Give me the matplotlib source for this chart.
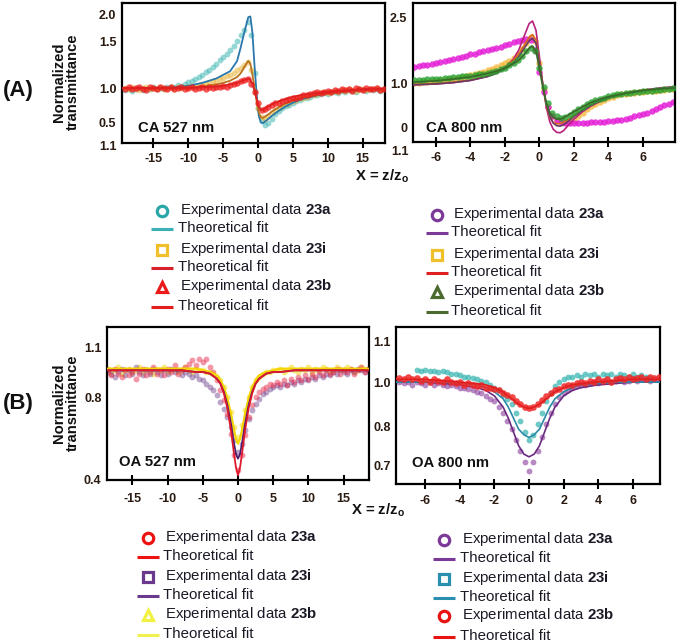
import numpy as np
import matplotlib
matplotlib.use('Agg')
import matplotlib.pyplot as plt

plt.rcParams['font.family'] = ['Liberation Sans', 'DejaVu Sans']
plt.rcParams['mathtext.fontset'] = 'custom'
plt.rcParams['mathtext.rm'] = 'Liberation Sans'
plt.rcParams['mathtext.bf'] = 'Liberation Sans:bold'
plt.rcParams['mathtext.it'] = 'Liberation Sans:italic'

# ---------------- CA 527 nm ----------------
x_ca527 = np.arange(-19, 18.01, 0.5)
ca527_23a = [0.97, 0.99, 0.96, 0.98, 1.00, 0.97, 0.99, 0.98, 1.01, 0.98, 1.00, 0.99, 1.02, 1.01,
             1.02, 1.04, 1.03, 1.06, 1.08, 1.10, 1.12, 1.15, 1.18, 1.22, 1.25, 1.29, 1.33, 1.38,
             1.42, 1.47, 1.52, 1.58, 1.65, 1.72, 1.80, 1.90, 1.72,
             1.20, 0.72, 0.55, 0.50, 0.52, 0.58, 0.64, 0.69,
             0.72, 0.75, 0.77, 0.80, 0.82, 0.84, 0.86, 0.87, 0.88, 0.90, 0.91, 0.92,
             0.93, 0.92, 0.94, 0.95, 0.93, 0.96, 0.95, 0.97, 0.96, 0.95, 0.98, 0.97, 0.96, 0.98, 0.97, 0.99, 0.96, 0.98]
ca527_23i = [1.00, 0.98, 1.01, 0.99, 0.97, 1.00, 1.02, 0.98, 1.00, 0.99, 1.01, 0.98, 1.00, 1.02,
             0.99, 1.01, 1.00, 1.02, 1.01, 1.03, 1.02, 1.04, 1.05, 1.06, 1.07, 1.09, 1.10, 1.12,
             1.14, 1.16, 1.18, 1.21, 1.24, 1.28, 1.32, 1.36, 1.25,
             0.95, 0.72, 0.60, 0.58, 0.62, 0.66, 0.70, 0.73,
             0.76, 0.78, 0.80, 0.82, 0.84, 0.86, 0.87, 0.88, 0.90, 0.91, 0.92, 0.93,
             0.94, 0.93, 0.95, 0.96, 0.95, 0.97, 0.96, 0.98, 0.97, 0.96, 0.99, 0.98, 0.97, 0.99, 0.98, 1.00, 0.97, 0.99]
ca527_23b = [0.99, 1.01, 0.98, 1.00, 1.02, 0.99, 0.97, 1.01, 1.00, 0.98, 1.02, 1.00, 0.99, 1.01, 0.98, 1.00, 1.02, 0.99, 1.00,
             1.01, 0.98, 1.00, 1.02, 0.99, 1.01, 1.00, 1.02, 1.01,
             1.03, 1.02, 1.04, 1.06, 1.07, 1.09, 1.11, 1.12,
             1.06, 0.95, 0.80, 0.70, 0.71, 0.74, 0.77,
             0.79, 0.80, 0.82, 0.83, 0.85, 0.86, 0.87, 0.88, 0.90, 0.91, 0.92, 0.93,
             0.94, 0.93, 0.95, 0.96, 0.94, 0.97, 0.96, 0.98, 0.97, 0.99, 0.96, 1.00, 0.98, 0.97, 1.00, 0.99, 0.98, 1.00, 0.97, 0.99]
xfit_ca527 = [-19.5, -15, -12, -10, -8, -6, -5, -4, -3, -2.5, -2, -1.7, -1.4, -1.1, -0.8, -0.5,
              -0.2, 0.1, 0.4, 0.7, 1.0, 1.5, 2, 3, 4, 5, 6, 8, 10, 13, 16, 18.2]
fit_ca527_23a = [1.0, 1.0, 1.01, 1.03, 1.07, 1.13, 1.18, 1.23, 1.37, 1.55, 1.75, 1.86, 1.97, 1.98, 1.75, 1.3,
                 0.92, 0.62, 0.53, 0.52, 0.54, 0.58, 0.62, 0.69, 0.75, 0.80, 0.84, 0.89, 0.93, 0.96, 0.98, 0.99]
fit_ca527_23i = [1.0, 1.0, 1.0, 1.01, 1.02, 1.05, 1.07, 1.10, 1.15, 1.20, 1.28, 1.33, 1.37, 1.33, 1.18, 1.0,
                 0.82, 0.67, 0.60, 0.59, 0.61, 0.64, 0.68, 0.74, 0.79, 0.83, 0.86, 0.90, 0.93, 0.96, 0.98, 0.99]
fit_ca527_23b = [1.0, 1.0, 1.0, 1.0, 1.01, 1.02, 1.03, 1.05, 1.07, 1.09, 1.11, 1.12, 1.13, 1.11, 1.05, 0.96,
                 0.85, 0.75, 0.70, 0.70, 0.72, 0.75, 0.78, 0.82, 0.85, 0.88, 0.90, 0.93, 0.95, 0.97, 0.99, 0.99]

# ---------------- CA 800 nm ----------------
x_ca800 = np.arange(-7.25, 7.76, 0.25)
ca800_23a = [1.37, 1.39, 1.40, 1.42, 1.44, 1.46, 1.48, 1.50, 1.52, 1.55, 1.57, 1.60, 1.62, 1.65, 1.67,
             1.70, 1.72, 1.75, 1.77, 1.80, 1.83, 1.86, 1.89, 1.93, 1.96, 1.98, 2.00, 1.98, 1.75, 1.25,
             0.80, 0.45, 0.25, 0.15, 0.12, 0.10, 0.10, 0.09, 0.09, 0.10, 0.10, 0.11, 0.11, 0.12, 0.12,
             0.13, 0.14, 0.15, 0.17, 0.19, 0.21, 0.24, 0.27, 0.30, 0.33, 0.37, 0.41, 0.45, 0.49, 0.53, 0.56]
ca800_23i = [1.00, 1.01, 1.02, 1.03, 1.04, 1.05, 1.06, 1.07, 1.09, 1.10, 1.12, 1.14, 1.16, 1.18, 1.20,
             1.23, 1.26, 1.29, 1.32, 1.36, 1.40, 1.45, 1.51, 1.58, 1.66, 1.78, 1.92, 2.05, 1.95, 1.45,
             0.85, 0.45, 0.25, 0.16, 0.13, 0.12, 0.13, 0.17, 0.24, 0.32, 0.40, 0.47, 0.53, 0.58, 0.62,
             0.66, 0.69, 0.72, 0.74, 0.76, 0.77, 0.78, 0.79, 0.80, 0.81, 0.82, 0.83, 0.84, 0.85, 0.86, 0.87]
ca800_23b = [1.07, 1.08, 1.08, 1.09, 1.09, 1.10, 1.10, 1.11, 1.12, 1.13, 1.14, 1.15, 1.16, 1.17, 1.18,
             1.20, 1.21, 1.23, 1.25, 1.28, 1.31, 1.35, 1.40, 1.46, 1.53, 1.62, 1.72, 1.80, 1.72, 1.35,
             0.90, 0.55, 0.33, 0.24, 0.21, 0.23, 0.28, 0.34, 0.40, 0.46, 0.52, 0.57, 0.61, 0.64, 0.67,
             0.70, 0.72, 0.74, 0.76, 0.77, 0.78, 0.79, 0.80, 0.81, 0.82, 0.83, 0.84, 0.85, 0.86, 0.87, 0.88]
xfit_ca800 = [-7.33, -6, -5, -4, -3, -2.5, -2, -1.5, -1.2, -0.9, -0.6, -0.4, -0.2, 0, 0.2, 0.4,
              0.6, 0.8, 1.0, 1.2, 1.4, 1.7, 2, 2.5, 3, 3.5, 4, 5, 6, 7, 7.86]
fit_ca800_mag = [0.96, 0.98, 1.01, 1.06, 1.15, 1.23, 1.35, 1.55, 1.75, 2.05, 2.35, 2.41, 2.2, 1.6, 0.95, 0.45,
                 0.12, -0.05, -0.12, -0.13, -0.08, 0.05, 0.18, 0.35, 0.48, 0.58, 0.66, 0.77, 0.84, 0.89, 0.92]
fit_ca800_23a = [0.96, 0.98, 1.01, 1.06, 1.15, 1.22, 1.32, 1.47, 1.60, 1.78, 1.96, 2.02, 1.90, 1.45, 0.95, 0.52,
                 0.25, 0.09, 0.03, 0.02, 0.05, 0.14, 0.24, 0.38, 0.50, 0.59, 0.66, 0.76, 0.83, 0.87, 0.89]
fit_ca800_23i = [0.97, 0.99, 1.02, 1.07, 1.17, 1.25, 1.36, 1.52, 1.66, 1.85, 2.04, 2.10, 1.98, 1.5, 0.95, 0.50,
                 0.22, 0.10, 0.07, 0.08, 0.11, 0.18, 0.27, 0.40, 0.51, 0.60, 0.67, 0.77, 0.83, 0.87, 0.89]
fit_ca800_23b = [1.02, 1.05, 1.09, 1.14, 1.22, 1.27, 1.34, 1.44, 1.52, 1.64, 1.79, 1.84, 1.72, 1.32, 0.9, 0.55,
                 0.33, 0.22, 0.18, 0.18, 0.21, 0.28, 0.35, 0.46, 0.56, 0.63, 0.69, 0.77, 0.83, 0.87, 0.89]

# ---------------- OA 527 nm ----------------
x_oa527 = np.arange(-18.5, 18.51, 0.5)
oa527_23a = [0.95, 0.93, 0.97, 0.94, 0.92, 0.96, 0.93, 0.95, 0.91, 0.94, 0.97, 0.93, 0.95, 0.98, 0.94, 0.96,
             0.93, 0.97, 0.95, 0.99, 0.94, 0.96, 0.98, 1.00, 1.02, 0.99, 1.03,
             1.01, 1.03, 0.98, 0.95, 0.90, 0.84, 0.78, 0.70, 0.58, 0.45,
             0.36,
             0.45, 0.57, 0.68, 0.75, 0.80, 0.83, 0.85, 0.86, 0.88, 0.87,
             0.89, 0.88, 0.90, 0.87, 0.91, 0.89, 0.92, 0.90, 0.93, 0.91, 0.94, 0.92, 0.95, 0.93, 0.96, 0.94,
             0.95, 0.97, 0.94, 0.96, 0.95, 0.97, 0.94, 0.96, 0.98, 0.95, 0.97]
oa527_23i = [0.96, 0.94, 0.92, 0.95, 0.97, 0.93, 0.96, 0.94, 0.98, 0.95, 0.93, 0.96, 0.94, 0.97, 0.95, 0.93,
             0.96, 0.94, 0.97, 0.95, 0.96, 0.93, 0.95, 0.94, 0.92, 0.93, 0.91,
             0.90, 0.88, 0.86, 0.84, 0.81, 0.77, 0.73, 0.68, 0.62, 0.54,
             0.47,
             0.52, 0.60, 0.67, 0.72, 0.76, 0.79, 0.82, 0.83, 0.85, 0.86,
             0.87, 0.86, 0.88, 0.87, 0.89, 0.88, 0.90, 0.89, 0.91, 0.90, 0.92, 0.91, 0.93, 0.92, 0.94, 0.93,
             0.95, 0.94, 0.96, 0.95, 0.94, 0.96, 0.95, 0.97, 0.96, 0.95, 0.97]
oa527_23b = [0.97, 0.95, 0.96, 0.98, 0.94, 0.96, 0.97, 0.95, 0.96, 0.98, 0.95, 0.97, 0.96, 0.94, 0.97, 0.96,
             0.98, 0.95, 0.96, 0.97, 0.95, 0.96, 0.98, 0.96, 0.95, 0.97, 0.96,
             0.96, 0.95, 0.95, 0.94, 0.92, 0.90, 0.86, 0.80, 0.71, 0.62,
             0.56,
             0.63, 0.72, 0.80, 0.86, 0.90, 0.92, 0.94, 0.95, 0.95, 0.96,
             0.96, 0.97, 0.95, 0.96, 0.98, 0.96, 0.95, 0.97, 0.96, 0.98, 0.95, 0.97, 0.96, 0.98, 0.97, 0.95,
             0.96, 0.98, 0.97, 0.96, 0.98, 0.97, 0.95, 0.96, 0.98, 0.97, 0.96]
xfit_oa527 = [-18.6, -12, -8, -6, -5, -4, -3, -2.5, -2, -1.5, -1, -0.6, -0.3, 0, 0.3, 0.6, 1, 1.5, 2,
              2.5, 3, 4, 5, 6, 8, 12, 18.6]
fit_oa527_23a = [0.96, 0.96, 0.96, 0.95, 0.95, 0.94, 0.91, 0.88, 0.82, 0.73, 0.60, 0.47, 0.38, 0.33, 0.38,
                 0.47, 0.60, 0.73, 0.82, 0.88, 0.91, 0.94, 0.95, 0.95, 0.96, 0.96, 0.96]
fit_oa527_23i = [0.96, 0.96, 0.96, 0.95, 0.95, 0.94, 0.91, 0.88, 0.83, 0.75, 0.64, 0.53, 0.46, 0.43, 0.46,
                 0.53, 0.64, 0.75, 0.83, 0.88, 0.91, 0.94, 0.95, 0.95, 0.96, 0.96, 0.96]
fit_oa527_23b = [0.97, 0.97, 0.97, 0.97, 0.96, 0.95, 0.93, 0.90, 0.86, 0.79, 0.70, 0.61, 0.55, 0.52, 0.55,
                 0.61, 0.70, 0.79, 0.86, 0.90, 0.93, 0.95, 0.96, 0.97, 0.97, 0.97, 0.97]

# ---------------- OA 800 nm ----------------
x_oa800 = np.arange(-7.5, 7.51, 0.25)
nan = np.nan
oa800_23a = [1.00, 0.995, 1.00, 0.99, 1.00, 0.995, 0.99, 1.00, 0.99, 0.995, 0.99, 0.985, 0.99, 0.985,
             0.98, 0.98, 0.975, 0.97, 0.965, 0.96, 0.95,
             0.94, 0.93, 0.91, 0.89, 0.86, 0.83, 0.79, 0.75, 0.71, 0.68,
             0.71, 0.75, 0.80, 0.85, 0.89, 0.92, 0.945, 0.96, 0.97, 0.98,
             0.985, 0.99, 0.99, 0.995, 1.00, 0.995, 1.00, 1.005, 1.00, 1.005, 1.01, 1.00, 1.005, 1.01,
             1.005, 1.01, 1.01, 1.005, 1.01, 1.01]
oa800_23i = [nan, nan, nan, nan, 1.045, 1.04, 1.045, 1.04, 1.04, 1.035, 1.04, 1.035, 1.03, 1.03,
             1.025, 1.02, 1.02, 1.015, 1.01, 1.005, 1.00,
             0.99, 0.98, 0.97, 0.955, 0.94, 0.92, 0.89, 0.86, 0.82, 0.79,
             0.81, 0.85, 0.89, 0.93, 0.96, 0.985, 1.00, 1.01, 1.02, 1.02,
             1.025, 1.02, 1.03, 1.025, 1.03, 1.02, 1.03, 1.025, 1.03, 1.02, 1.03, 1.025, 1.02, 1.03,
             1.02, 1.025, 1.02, 1.015, nan, nan]
oa800_23b = [1.015, 1.01, 1.02, 1.01, 1.015, 1.005, 1.01, 1.00, 1.01, 1.005, 1.00, 1.01, 1.00, 0.995,
             1.00, 0.99, 0.995, 0.99, 0.985, 0.99, 0.98,
             0.98, 0.975, 0.97, 0.96, 0.955, 0.945, 0.93, 0.92, 0.91, 0.905,
             0.91, 0.92, 0.935, 0.95, 0.96, 0.97, 0.975, 0.985, 0.99, 0.99,
             0.995, 1.00, 0.995, 1.005, 1.00, 1.01, 1.005, 1.01, 1.00, 1.01, 1.015, 1.01, 1.02, 1.01,
             1.015, 1.02, 1.01, 1.02, 1.015, 1.02]
xfit_oa800 = [-7.69, -6, -5, -4, -3, -2.5, -2, -1.5, -1.2, -0.9, -0.6, -0.3, 0, 0.3, 0.6, 0.9, 1.2,
              1.5, 2, 2.5, 3, 4, 5, 6, 7.57]
fit_oa800_23a = [1.0, 1.0, 0.995, 0.99, 0.98, 0.97, 0.95, 0.91, 0.87, 0.82, 0.77, 0.74, 0.73, 0.74, 0.77,
                 0.82, 0.87, 0.91, 0.95, 0.97, 0.98, 0.99, 0.995, 1.0, 1.0]
fit_oa800_23i = [1.0, 1.0, 1.0, 0.995, 0.99, 0.98, 0.965, 0.94, 0.91, 0.87, 0.83, 0.81, 0.80, 0.81, 0.83,
                 0.87, 0.91, 0.94, 0.965, 0.98, 0.99, 0.995, 1.0, 1.0, 1.0]
fit_oa800_23b = [1.01, 1.01, 1.005, 1.0, 0.995, 0.99, 0.98, 0.965, 0.95, 0.935, 0.92, 0.91, 0.905, 0.91, 0.92,
                 0.935, 0.95, 0.965, 0.98, 0.99, 0.995, 1.0, 1.005, 1.01, 1.01]

# tick labels as printed in the original figure
xt_wide = [-15, -10, -5, 0, 5, 10, 15]
xt_narrow = [-6, -4, -2, 0, 2, 4, 6]
yt_ca527, yl_ca527 = [2.0, 1.63, 1.0, 0.534], ['2.0', '1.5', '1.0', '0.5']
yt_ca800, yl_ca800 = [2.5, 1.0, -0.02], ['2.5', '1.0', '0']
yt_oa527, yl_oa527 = [1.1, 0.8, 0.306], ['1.1', '0.8', '0.4']
yt_oa800, yl_oa800 = [1.148, 1.0, 0.838, 0.70], ['1.1', '1.0', '0.8', '0.7']

EXP = 'Experimental data $\\mathbf{%s}$'
FIT = 'Theoretical fit'
leg_ca527 = [('o', '#2aa6a8', EXP % '23a'), ('-', '#3cb0b8', FIT), ('s', '#efbf2c', EXP % '23i'),
             ('-', '#d8202c', FIT), ('^', '#ea1a1a', EXP % '23b'), ('-', '#e41c1c', FIT)]
leg_ca800 = [('o', '#7b3a98', EXP % '23a'), ('-', '#7b3a98', FIT), ('s', '#efbf2c', EXP % '23i'),
             ('-', '#e02020', FIT), ('^', '#4b6a2e', EXP % '23b'), ('-', '#4b6a2e', FIT)]
leg_oa527 = [('o', '#ee1212', EXP % '23a'), ('-', '#ee1212', FIT), ('s', '#6b3a8c', EXP % '23i'),
             ('-', '#6b3a8c', FIT), ('^', '#f2f040', EXP % '23b'), ('-', '#f2f050', FIT)]
leg_oa800 = [('o', '#7b3a98', EXP % '23a'), ('-', '#7b3a98', FIT), ('s', '#2a8fae', EXP % '23i'),
             ('-', '#2a8fae', FIT), ('o', '#e81212', EXP % '23b'), ('-', '#e81212', FIT)]

W, H = 680, 644
TICKC = '#2a1a10'
TXT = '#1a1a26'

fig = plt.figure(figsize=(W / 100, H / 100), dpi=100)


def box(l, t, r, b):
    return fig.add_axes([l / W, 1 - b / H, (r - l) / W, (b - t) / H])


def style(ax, xt, yt, yl, xpad):
    for s in ax.spines.values():
        s.set_linewidth(1.6)
    ax.set_xticks(xt)
    ax.set_xticklabels([str(v) for v in xt])
    ax.set_yticks(yt)
    ax.set_yticklabels(yl)
    ax.tick_params(axis='x', direction='inout', length=7, width=1.5, pad=xpad,
                   labelsize=9, labelcolor=TICKC)
    ax.tick_params(axis='y', length=0, pad=4, labelsize=9, labelcolor=TICKC)
    for lab in ax.get_xticklabels() + ax.get_yticklabels():
        lab.set_fontweight('bold')


def dots(ax, x, y, c, a=0.55, ms=4.2, z=2):
    ax.plot(x, y, 'o', color=c, ms=ms, mew=0, alpha=a, zorder=z)


# ---- panel A left
ax1 = box(122, 3, 385, 143)
dots(ax1, x_ca527, ca527_23a, '#3fb6b4')
dots(ax1, x_ca527, ca527_23i, '#eab43a')
ax1.plot(xfit_ca527, fit_ca527_23a, color='#2a78ac', lw=1.3, zorder=3)
ax1.plot(xfit_ca527, fit_ca527_23i, color='#b8741c', lw=1.3, zorder=3)
dots(ax1, x_ca527, ca527_23b, '#f01c1c', a=0.75, ms=4.6, z=4)
ax1.plot(xfit_ca527, fit_ca527_23b, color='#e02020', lw=1.3, zorder=5)
ax1.set_xlim(-19.5, 18.2)
ax1.set_ylim(0.247, 2.164)
style(ax1, xt_wide, yt_ca527, yl_ca527, 4)
ax1.text(0.06, 0.11, 'CA 527 nm', transform=ax1.transAxes, fontsize=10.7,
         fontweight='bold', va='center', color='#111111')

# ---- panel A right
ax2 = box(413, 3, 675, 142)
dots(ax2, x_ca800, ca800_23i, '#f5b024', a=0.7, ms=4.6)
dots(ax2, x_ca800, ca800_23a, '#e41ed6', a=0.85, ms=4.6, z=2.5)
ax2.plot(xfit_ca800, fit_ca800_mag, color='#b8207e', lw=1.2, zorder=3)
ax2.plot(xfit_ca800, fit_ca800_23i, color='#d46a1c', lw=1.2, zorder=3)
ax2.plot(xfit_ca800, fit_ca800_23a, color='#6a3a60', lw=1.2, zorder=3)
dots(ax2, x_ca800, ca800_23b, '#28a030', a=0.8, ms=4.6, z=4)
ax2.plot(xfit_ca800, fit_ca800_23b, color='#3a6a2a', lw=1.2, zorder=5)
ax2.set_xlim(-7.33, 7.86)
ax2.set_ylim(-0.34, 2.82)
style(ax2, xt_narrow, yt_ca800, yl_ca800, 4)
ax2.text(0.05, 0.10, 'CA 800 nm', transform=ax2.transAxes, fontsize=10.7,
         fontweight='bold', va='center', color='#111111')

# ---- panel B left
ax3 = box(107, 327, 369, 480)
dots(ax3, x_oa527, oa527_23b, '#f2e030', a=0.6)
dots(ax3, x_oa527, oa527_23i, '#6a3a8a', a=0.45)
dots(ax3, x_oa527, oa527_23a, '#e83050', a=0.5)
ax3.plot(xfit_oa527, fit_oa527_23b, color='#f5d400', lw=1.6, zorder=3)
ax3.plot(xfit_oa527, fit_oa527_23i, color='#4a1e6a', lw=1.3, zorder=4)
ax3.plot(xfit_oa527, fit_oa527_23a, color='#e0182c', lw=1.3, zorder=4)
ax3.set_xlim(-18.6, 18.6)
ax3.set_ylim(0.302, 1.22)
style(ax3, xt_wide, yt_oa527, yl_oa527, 6)
ax3.text(0.046, 0.12, 'OA 527 nm', transform=ax3.transAxes, fontsize=10.7,
         fontweight='bold', va='center', color='#111111')

# ---- panel B right
ax4 = box(396, 327, 660, 484)
dots(ax4, x_oa800, oa800_23a, '#8a3a9a', a=0.6)
dots(ax4, x_oa800, oa800_23i, '#30b2ae', a=0.7)
ax4.plot(xfit_oa800, fit_oa800_23a, color='#6a2a80', lw=1.2, zorder=3)
ax4.plot(xfit_oa800, fit_oa800_23i, color='#2a8aa8', lw=1.2, zorder=3)
dots(ax4, x_oa800, oa800_23b, '#f02828', a=0.85, ms=4.8, z=4)
ax4.plot(xfit_oa800, fit_oa800_23b, color='#e02020', lw=1.2, zorder=5)
ax4.set_xlim(-7.69, 7.57)
ax4.set_ylim(0.632, 1.199)
style(ax4, xt_narrow, yt_oa800, yl_oa800, 4.5)
ax4.text(0.06, 0.134, 'OA 800 nm', transform=ax4.transAxes, fontsize=10.7,
         fontweight='bold', va='center', color='#111111')

# ---- overlay for labels and legends (pixel coordinates)
ov = fig.add_axes([0, 0, 1, 1], zorder=-1)
ov.set_xlim(0, W)
ov.set_ylim(H, 0)
ov.axis('off')

ov.text(18, 90, '(A)', fontsize=16, fontweight='bold', ha='center', va='center', color='#111111')
ov.text(18, 403, '(B)', fontsize=16, fontweight='bold', ha='center', va='center', color='#111111')
for yc in (82, 403):
    ov.text(66, yc, 'Normalized\ntransmittance', rotation=90, fontsize=10.6, fontweight='bold',
            ha='center', va='center', linespacing=1.0, color='#111111')
ov.text(382, 176, 'X = z/z$_\\mathbf{o}$', fontsize=10.7, fontweight='bold', ha='center',
        va='center', color='#111111')
ov.text(378, 510, 'X = z/z$_\\mathbf{o}$', fontsize=10.7, fontweight='bold', ha='center',
        va='center', color='#111111')
ov.text(108, 147, '1.1', fontsize=9, fontweight='bold', ha='center', va='center', color=TICKC)
ov.text(400, 152, '1.1', fontsize=9, fontweight='bold', ha='center', va='center', color=TICKC)


def legend(entries, xm, xt, rows):
    for (kind, c, label), y in zip(entries, rows):
        if kind == '-':
            ov.plot([xm - 11, xm + 11], [y, y], color=c, lw=2.2, solid_capstyle='butt')
            ov.text(xt - 2, y - 1, label, fontsize=10.8, va='center', color=TXT)
        else:
            ov.plot([xm], [y], marker=kind, ms=7.5, mfc='none', mec=c, mew=2.3)
            ov.text(xt, y - 1, label, fontsize=10.8, va='center', color=TXT)


legend(leg_ca527, 162, 180, [211, 229, 250, 268, 287, 307])
legend(leg_ca800, 437, 453, [215, 233, 255, 273, 292, 312])
legend(leg_oa527, 148, 165, [538, 557, 577, 596, 615, 635])
legend(leg_oa800, 444, 462, [540, 559, 579, 598, 616, 637])

fig.savefig('out.png', dpi=100)
